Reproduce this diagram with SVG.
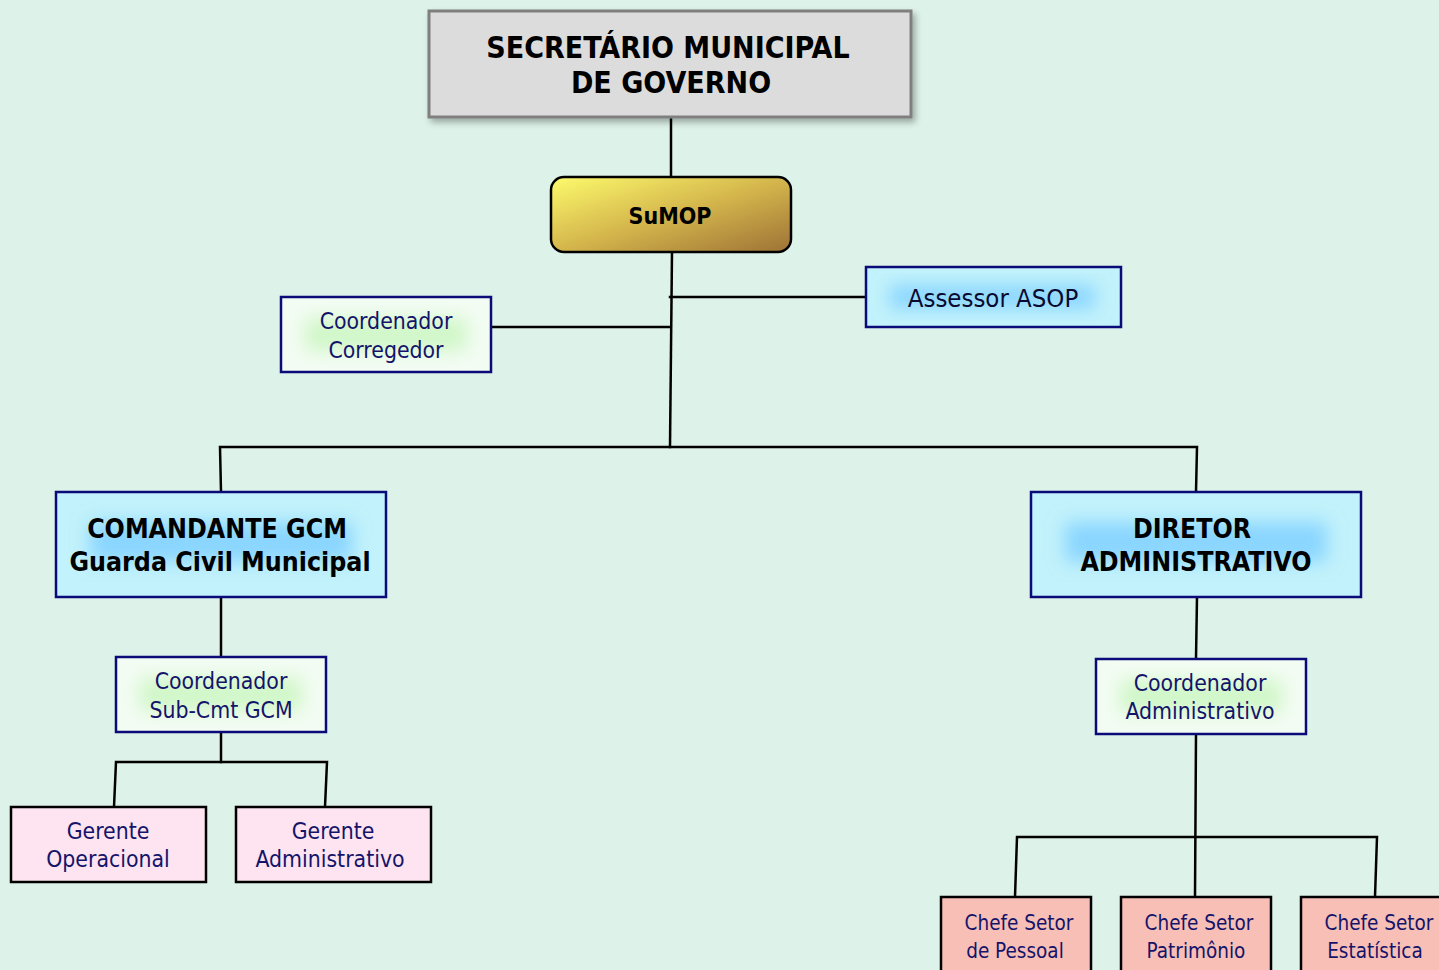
<svg xmlns="http://www.w3.org/2000/svg" width="1439" height="970" viewBox="0 0 1439 970">
<defs>
<linearGradient id="gold" x1="0" y1="0" x2="1" y2="1">
<stop offset="0" stop-color="#fdfb6c"/>
<stop offset="0.5" stop-color="#d4b64c"/>
<stop offset="1" stop-color="#9e7236"/>
</linearGradient>
<filter id="blur" x="-20%" y="-50%" width="140%" height="200%"><feGaussianBlur stdDeviation="9"/></filter>
<filter id="shadow" x="-10%" y="-10%" width="130%" height="140%">
<feGaussianBlur in="SourceAlpha" stdDeviation="3"/>
<feOffset dx="3" dy="4" result="o"/>
<feFlood flood-color="#000" flood-opacity="0.3"/>
<feComposite in2="o" operator="in"/>
<feMerge><feMergeNode/><feMergeNode in="SourceGraphic"/></feMerge>
</filter>
<style>
.ln{stroke:#000;stroke-width:2.5;fill:none;stroke-linecap:square}
.blue{fill:#c2f2fb}
.bluein{fill:#8ad6ff}
.green{fill:#f3fcf3}
.greenin{fill:#d0f7c8}
.frame{fill:none;stroke:#0a0a78;stroke-width:2.5}
.pink{fill:#fde4f0;stroke:#000;stroke-width:2.5}
.salmon{fill:#f8bfb6;stroke:#000;stroke-width:2.5}
.t{font-family:"DejaVu Sans Condensed","DejaVu Sans",sans-serif;text-anchor:middle}
.nv{fill:#14146a;font-size:22.8px}
.bk{fill:#000;font-weight:bold}
.ch{fill:#14146a;font-size:20.5px}
</style>
</defs>
<rect width="1439" height="970" fill="#ddf2e8"/>
<g id="connectors">
<path class="ln" d="M671 118 L671 177"/>
<path class="ln" d="M672 252 L670 447"/>
<path class="ln" d="M670 297 L866 297"/>
<path class="ln" d="M491 327 L670 327"/>
<path class="ln" d="M221 492 L220 447 L1197 447 L1196 492"/>
<path class="ln" d="M221 597 L221 657"/>
<path class="ln" d="M221 732 L221 762"/>
<path class="ln" d="M114 807 L116 762 L327 762 L325 807"/>
<path class="ln" d="M1197 597 L1196 659"/>
<path class="ln" d="M1196 734 L1195 897"/>
<path class="ln" d="M1015 897 L1017 837 L1377 837 L1375 897"/>
</g>
<g id="secretario">
<rect x="429" y="11" width="482" height="106" fill="#dcdcdc" stroke="#7f7f7f" stroke-width="3" filter="url(#shadow)"/>
<text class="t bk" x="668" y="58" font-size="30">SECRETÁRIO MUNICIPAL</text>
<text class="t bk" x="671" y="93" font-size="30">DE GOVERNO</text>
</g>
<g id="sumop">
<rect x="551" y="177" width="240" height="75" rx="13" fill="url(#gold)" stroke="#000" stroke-width="2.5"/>
<text class="t bk" x="670" y="224" font-size="23">SuMOP</text>
</g>
<g id="assessor">
<rect x="866" y="267" width="255" height="60" class="blue"/>
<rect x="890" y="285" width="205" height="24" class="bluein" filter="url(#blur)"/>
<rect x="866" y="267" width="255" height="60" class="frame"/>
<text class="t" x="993" y="307" font-size="25.5" fill="#0a0a30">Assessor ASOP</text>
</g>
<g id="corregedor">
<rect x="281" y="297" width="210" height="75" class="green"/>
<rect x="305" y="318" width="162" height="33" class="greenin" filter="url(#blur)"/>
<rect x="281" y="297" width="210" height="75" class="frame"/>
<text class="t nv" x="386" y="329">Coordenador</text>
<text class="t nv" x="386" y="358">Corregedor</text>
</g>
<g id="comandante">
<rect x="56" y="492" width="330" height="105" class="blue"/>
<rect x="90" y="522" width="262" height="40" class="bluein" filter="url(#blur)"/>
<rect x="56" y="492" width="330" height="105" class="frame"/>
<text class="t bk" x="217" y="538" font-size="26.5">COMANDANTE GCM</text>
<text class="t bk" x="220" y="571" font-size="26.5">Guarda Civil Municipal</text>
</g>
<g id="diretor">
<rect x="1031" y="492" width="330" height="105" class="blue"/>
<rect x="1065" y="522" width="262" height="40" class="bluein" filter="url(#blur)"/>
<rect x="1031" y="492" width="330" height="105" class="frame"/>
<text class="t bk" x="1192" y="538" font-size="26.5">DIRETOR</text>
<text class="t bk" x="1196" y="571" font-size="26.5">ADMINISTRATIVO</text>
</g>
<g id="subcmt">
<rect x="116" y="657" width="210" height="75" class="green"/>
<rect x="140" y="678" width="162" height="33" class="greenin" filter="url(#blur)"/>
<rect x="116" y="657" width="210" height="75" class="frame"/>
<text class="t nv" x="221" y="689">Coordenador</text>
<text class="t nv" x="221" y="718">Sub-Cmt GCM</text>
</g>
<g id="coordadm">
<rect x="1096" y="659" width="210" height="75" class="green"/>
<rect x="1120" y="680" width="162" height="33" class="greenin" filter="url(#blur)"/>
<rect x="1096" y="659" width="210" height="75" class="frame"/>
<text class="t nv" x="1200" y="691">Coordenador</text>
<text class="t nv" x="1200" y="719">Administrativo</text>
</g>
<g id="gerop">
<rect x="11" y="807" width="195" height="75" class="pink"/>
<text class="t nv" x="108" y="839">Gerente</text>
<text class="t nv" x="108" y="867">Operacional</text>
</g>
<g id="geradm">
<rect x="236" y="807" width="195" height="75" class="pink"/>
<text class="t nv" x="333" y="839">Gerente</text>
<text class="t nv" x="330" y="867">Administrativo</text>
</g>
<g id="pessoal">
<rect x="941" y="897" width="150" height="80" class="salmon"/>
<text class="t ch" x="1019" y="930">Chefe Setor</text>
<text class="t ch" x="1015" y="958">de Pessoal</text>
</g>
<g id="patrimonio">
<rect x="1121" y="897" width="150" height="80" class="salmon"/>
<text class="t ch" x="1199" y="930">Chefe Setor</text>
<text class="t ch" x="1196" y="958">Patrimônio</text>
</g>
<g id="estatistica">
<rect x="1301" y="897" width="150" height="80" class="salmon"/>
<text class="t ch" x="1379" y="930">Chefe Setor</text>
<text class="t ch" x="1375" y="958">Estatística</text>
</g>
</svg>
